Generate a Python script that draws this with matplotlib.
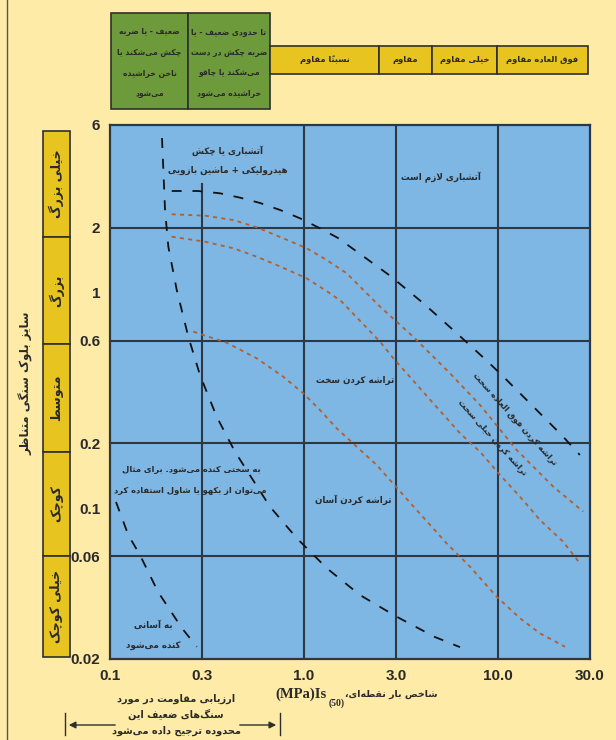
import matplotlib
matplotlib.use("Agg")
import matplotlib.pyplot as plt
from matplotlib.patches import Rectangle

# --- simple Persian shaping: contextual forms + right-to-left order ---
# dual-joining letters: (isolated, final, initial, medial); right-joining: (isolated, final)
FORMS = {
    'ء': ('\uFE80',),
    'آ': ('\uFE81', '\uFE82'), 'ا': ('\uFE8D', '\uFE8E'),
    'د': ('\uFEA9', '\uFEAA'), 'ذ': ('\uFEAB', '\uFEAC'),
    'ر': ('\uFEAD', '\uFEAE'), 'ز': ('\uFEAF', '\uFEB0'),
    'ژ': ('\uFB8A', '\uFB8B'), 'و': ('\uFEED', '\uFEEE'),
    'لا': ('\uFEFB', '\uFEFC'), 'لآ': ('\uFEF5', '\uFEF6'),
    'ب': ('\uFE8F', '\uFE90', '\uFE91', '\uFE92'),
    'پ': ('\uFB56', '\uFB57', '\uFB58', '\uFB59'),
    'ت': ('\uFE95', '\uFE96', '\uFE97', '\uFE98'),
    'ث': ('\uFE99', '\uFE9A', '\uFE9B', '\uFE9C'),
    'ج': ('\uFE9D', '\uFE9E', '\uFE9F', '\uFEA0'),
    'چ': ('\uFB7A', '\uFB7B', '\uFB7C', '\uFB7D'),
    'ح': ('\uFEA1', '\uFEA2', '\uFEA3', '\uFEA4'),
    'خ': ('\uFEA5', '\uFEA6', '\uFEA7', '\uFEA8'),
    'س': ('\uFEB1', '\uFEB2', '\uFEB3', '\uFEB4'),
    'ش': ('\uFEB5', '\uFEB6', '\uFEB7', '\uFEB8'),
    'ص': ('\uFEB9', '\uFEBA', '\uFEBB', '\uFEBC'),
    'ض': ('\uFEBD', '\uFEBE', '\uFEBF', '\uFEC0'),
    'ط': ('\uFEC1', '\uFEC2', '\uFEC3', '\uFEC4'),
    'ظ': ('\uFEC5', '\uFEC6', '\uFEC7', '\uFEC8'),
    'ع': ('\uFEC9', '\uFECA', '\uFECB', '\uFECC'),
    'غ': ('\uFECD', '\uFECE', '\uFECF', '\uFED0'),
    'ف': ('\uFED1', '\uFED2', '\uFED3', '\uFED4'),
    'ق': ('\uFED5', '\uFED6', '\uFED7', '\uFED8'),
    'ک': ('\uFB8E', '\uFB8F', '\uFB90', '\uFB91'),
    'گ': ('\uFB92', '\uFB93', '\uFB94', '\uFB95'),
    'ل': ('\uFEDD', '\uFEDE', '\uFEDF', '\uFEE0'),
    'م': ('\uFEE1', '\uFEE2', '\uFEE3', '\uFEE4'),
    'ن': ('\uFEE5', '\uFEE6', '\uFEE7', '\uFEE8'),
    'ه': ('\uFEE9', '\uFEEA', '\uFEEB', '\uFEEC'),
    'ی': ('\uFBFC', '\uFBFD', '\uFBFE', '\uFBFF'),
    'ئ': ('\uFE89', '\uFE8A', '\uFE8B', '\uFE8C'),
}
MARKS = '\u064B\u064C\u064D\u064E\u064F\u0650\u0651\u0652'


def shape_line(text):
    units = []
    for ch in text:
        if ch in MARKS and units:
            units[-1][1] += ch
        elif ch in 'اآ' and units and units[-1][0] == 'ل' and not units[-1][1]:
            units[-1][0] = 'ل' + ch
        else:
            units.append([ch, ''])
    out = []
    for i, (c, m) in enumerate(units):
        f = FORMS.get(c)
        if f is None:
            if c != '\u200c':
                out.append(c + m)
            continue
        prev = units[i - 1][0] if i > 0 else ''
        nxt = units[i + 1][0] if i + 1 < len(units) else ''
        p = len(FORMS.get(prev, ())) == 4 and len(f) > 1
        n = len(f) == 4 and len(FORMS.get(nxt, ())) > 1
        if p and n:
            k = 3
        elif p:
            k = 1
        elif n:
            k = 2
        else:
            k = 0
        out.append(f[k] + m)
    return ''.join(reversed(out))


def fa(text):
    return '\n'.join(shape_line(t) for t in text.split('\n'))


# --- data ---
x_ticks = [0.1, 0.3, 1.0, 3.0, 10.0, 30.0]
x_labels = ['0.1', '0.3', '1.0', '3.0', '10.0', '30.0']
y_ticks = [6, 2, 1, 0.6, 0.2, 0.1, 0.06, 0.02]
y_labels = ['6', '2', '1', '0.6', '0.2', '0.1', '0.06', '0.02']
h_grid = [2, 0.6, 0.2, 0.06]
v_grid = [0.3, 1.0, 3.0, 10.0]
v_grid_top = [3.2, 6, 6, 6]

# excavation limits (black dashed)
dig_hard_x = [0.1855, 0.1923, 0.200, 0.221, 0.2536, 0.2913, 0.3553, 0.4416, 0.669,
              0.919, 1.313, 1.95, 3.02, 4.75, 6.40]
dig_hard_y = [5.22, 2.42, 1.636, 1.03, 0.625, 0.4155, 0.266, 0.183, 0.1018,
              0.0728, 0.0528, 0.0396, 0.0314, 0.0253, 0.0227]
blast_x = [0.2082, 0.2844, 0.3694, 0.4688, 0.5942, 0.754, 0.956, 1.212, 1.502,
           2.786, 4.14, 6.03, 8.72, 10.5, 15.0, 21.4, 26.6]
blast_y = [2.965, 2.965, 2.893, 2.761, 2.609, 2.421, 2.215, 1.991, 1.795,
           1.20, 0.894, 0.660, 0.4876, 0.4155, 0.3015, 0.2188, 0.1768]
dig_easy_x = [0.1074, 0.1243, 0.1428, 0.1769, 0.2344, 0.2802]
dig_easy_y = [0.107, 0.0752, 0.0607, 0.0410, 0.0279, 0.0228]

# ripping limits (orange dotted)
rip_ext_x = [0.2082, 0.309, 0.4328, 0.5715, 0.784, 1.035, 1.313, 1.665, 2.474,
             3.674, 5.68, 8.12, 12.55, 19.4, 27.7]
rip_ext_y = [2.312, 2.278, 2.175, 2.012, 1.789, 1.608, 1.419, 1.231, 0.862,
             0.625, 0.423, 0.3015, 0.1865, 0.126, 0.0965]
rip_vhard_x = [0.2082, 0.309, 0.4328, 0.5715, 0.725, 1.035, 1.366, 1.570, 2.474,
               2.90, 4.66, 6.40, 8.12, 10.3, 13.06, 16.55, 21.8, 26.6]
rip_vhard_y = [1.82, 1.725, 1.608, 1.470, 1.345, 1.167, 0.994, 0.909, 0.593,
               0.4965, 0.307, 0.2229, 0.183, 0.1428, 0.1132, 0.0883, 0.070, 0.0556]
rip_hard_x = [0.2691, 0.4001, 0.5715, 0.784, 0.994, 1.212, 1.478, 1.875, 2.378,
              3.263, 5.46, 7.21, 9.90, 13.06, 16.55, 22.3]
rip_hard_y = [0.660, 0.5866, 0.4965, 0.4077, 0.3416, 0.2858, 0.2350, 0.1931, 0.1589,
              0.1152, 0.0688, 0.0536, 0.0389, 0.0309, 0.0263, 0.0228]

size_classes = ['خیلی بزرگ', 'بزرگ', 'متوسط', 'کوچک', 'خیلی کوچک']
strength_classes = ['نسبتاً مقاوم', 'مقاوم', 'خیلی مقاوم', 'فوق العاده مقاوم']
weak_classes = ['ضعیف - یا ضربه\nچکش می\u200cشکند یا\nناخن خراشیده\nمی\u200cشود',
                'تا حدودی ضعیف - یا\nضربه چکش در دست\nمی\u200cشکند یا چاقو\nخراشیده می\u200cشود']

# --- colours ---
BG = '#FFEBA8'
BLUE = '#7EB6E4'
YELLOW = '#E8C420'
GREEN = '#6D9A3B'
EDGE = '#2E2E2E'
GRID = '#2D3843'
ORANGE = '#B45F2C'
TXT = '#2A2A2A'
FA = 'DejaVu Sans'

W, H = 616, 740
fig = plt.figure(figsize=(W / 100, H / 100), dpi=100, facecolor=BG)

# overlay in pixel units for the surrounding boxes and notes
frame = fig.add_axes([0, 0, 1, 1], zorder=0)
frame.set_xlim(0, W)
frame.set_ylim(H, 0)
frame.axis('off')

# main chart area
L, T, R, B = 110, 125, 590, 659
ax = fig.add_axes([L / W, 1 - B / H, (R - L) / W, (B - T) / H], zorder=1)
ax.set_facecolor(BLUE)
ax.set_xscale('log')
ax.set_yscale('log')
ax.set_xlim(0.1, 30)
ax.set_ylim(0.02, 6)

for yv in h_grid:
    ax.axhline(yv, color=GRID, lw=1.5, zorder=1)
for xv, top in zip(v_grid, v_grid_top):
    ax.plot([xv, xv], [0.02, top], color=GRID, lw=1.5, zorder=1)

black_ls = (0, (5.5, 6))
ax.plot(dig_hard_x, dig_hard_y, color='#111111', lw=1.3, ls=black_ls, zorder=3)
ax.plot(blast_x, blast_y, color='#111111', lw=1.3, ls=black_ls, zorder=3)
ax.plot(dig_easy_x, dig_easy_y, color='#111111', lw=1.3, ls=black_ls, zorder=3)

orange_ls = (0, (2.2, 2.4))
for xs, ys in [(rip_ext_x, rip_ext_y), (rip_vhard_x, rip_vhard_y), (rip_hard_x, rip_hard_y)]:
    ax.plot(xs, ys, color=ORANGE, lw=1.3, ls=orange_ls, zorder=2)

ax.minorticks_off()
ax.set_xticks(x_ticks)
ax.set_xticklabels(x_labels, fontfamily='Liberation Sans', fontweight='bold', fontsize=11, color=TXT)
ax.set_yticks(y_ticks)
ax.set_yticklabels(y_labels, fontfamily='Liberation Sans', fontweight='bold', fontsize=11, color=TXT)
ax.tick_params(length=0, pad=7)
for s in ax.spines.values():
    s.set_color(GRID)
    s.set_linewidth(1.6)

# region notes inside the chart
def note(x, y, s, size=6.3, **kw):
    ax.text(x, y, fa(s), transform=ax.transAxes, fontfamily=FA, fontweight='bold',
            fontsize=size, color=TXT, zorder=4, ha='center', va='center', **kw)

note(0.245, 0.952, 'آتشباری یا چکش')
note(0.245, 0.915, 'هیدرولیکی + ماشین بازویی')
note(0.690, 0.902, 'آتشباری لازم است')
note(0.510, 0.522, 'تراشه کردن سخت')
note(0.507, 0.298, 'تراشه کردن آسان')
note(0.170, 0.354, 'به سختی کنده می\u200cشود. برای مثال', size=6)
note(0.168, 0.316, 'می\u200cتوان از بکهو یا شاول استفاده کرد', size=6)
note(0.090, 0.064, 'به آسانی')
note(0.090, 0.026, 'کنده می\u200cشود')
note(0.844, 0.449, 'تراشه کردن فوق العاده سخت', size=6, rotation=-48, rotation_mode='anchor')
note(0.796, 0.414, 'تراشه کردن خیلی سخت', size=6, rotation=-48, rotation_mode='anchor')

# strength header
frame.add_patch(Rectangle((111, 13), 77, 96, fc=GREEN, ec=EDGE, lw=1.2))
frame.add_patch(Rectangle((188, 13), 82, 96, fc=GREEN, ec=EDGE, lw=1.2))
for cx, s in zip([149.5, 229], weak_classes):
    for j, line in enumerate(s.split('\n')):
        frame.text(cx, 32 + 20.5 * j, fa(line), ha='center', va='center', fontfamily=FA,
                   fontweight='bold', fontsize=5.5, color=TXT)
strip_edges = [270, 379, 432, 497, 588]
for k, s in enumerate(strength_classes):
    x0, x1 = strip_edges[k], strip_edges[k + 1]
    frame.add_patch(Rectangle((x0, 46), x1 - x0, 28, fc=YELLOW, ec=EDGE, lw=1.2))
    frame.text((x0 + x1) / 2, 60, fa(s), ha='center', va='center', fontfamily=FA,
               fontweight='bold', fontsize=6, color=TXT)

# block size column
size_edges = [131, 237, 344, 452, 556, 657]
for k, s in enumerate(size_classes):
    y0, y1 = size_edges[k], size_edges[k + 1]
    frame.add_patch(Rectangle((43, y0), 27, y1 - y0, fc=YELLOW, ec=EDGE, lw=1.2))
    frame.text(56.5, (y0 + y1) / 2, fa(s), ha='center', va='center', rotation=90,
               fontfamily=FA, fontweight='bold', fontsize=9, color=TXT)
frame.text(26, 383, fa('سایز بلوک سنگی متناظر'), ha='center', va='center', rotation=90,
           fontfamily=FA, fontweight='bold', fontsize=8.5, color=TXT)
frame.plot([7, 7], [0, H], color='#555555', lw=1)

# x axis title
frame.text(391, 694, fa('شاخص بار نقطه\u200cای،'), ha='center', va='center', fontfamily=FA,
           fontweight='bold', fontsize=6.8, color=TXT)
frame.text(327, 694, '(MPa)Is', ha='right', va='center', fontfamily='Liberation Serif',
           fontweight='bold', fontsize=10.5, color=TXT)
frame.text(337, 703, '(50)', ha='center', va='center', fontfamily='Liberation Serif',
           fontweight='bold', fontsize=7, color=TXT)

# preferred range note with arrow
for j, line in enumerate(['ارزیابی مقاومت در مورد', 'سنگ\u200cهای ضعیف این',
                          'محدوده ترجیح داده می\u200cشود']):
    frame.text(176, 699 + 16 * j, fa(line), ha='center', va='center', fontfamily=FA,
               fontweight='bold', fontsize=7, color=TXT)
frame.plot([65, 65], [713, 735], color=EDGE, lw=1)
frame.plot([280, 280], [713, 735], color=EDGE, lw=1)
frame.annotate('', xy=(66, 725), xytext=(118, 725),
               arrowprops=dict(arrowstyle='-|>', color=EDGE, lw=1, mutation_scale=10))
frame.annotate('', xy=(279, 725), xytext=(237, 725),
               arrowprops=dict(arrowstyle='-|>', color=EDGE, lw=1, mutation_scale=10))

fig.savefig('out.png', dpi=100, facecolor=BG)
